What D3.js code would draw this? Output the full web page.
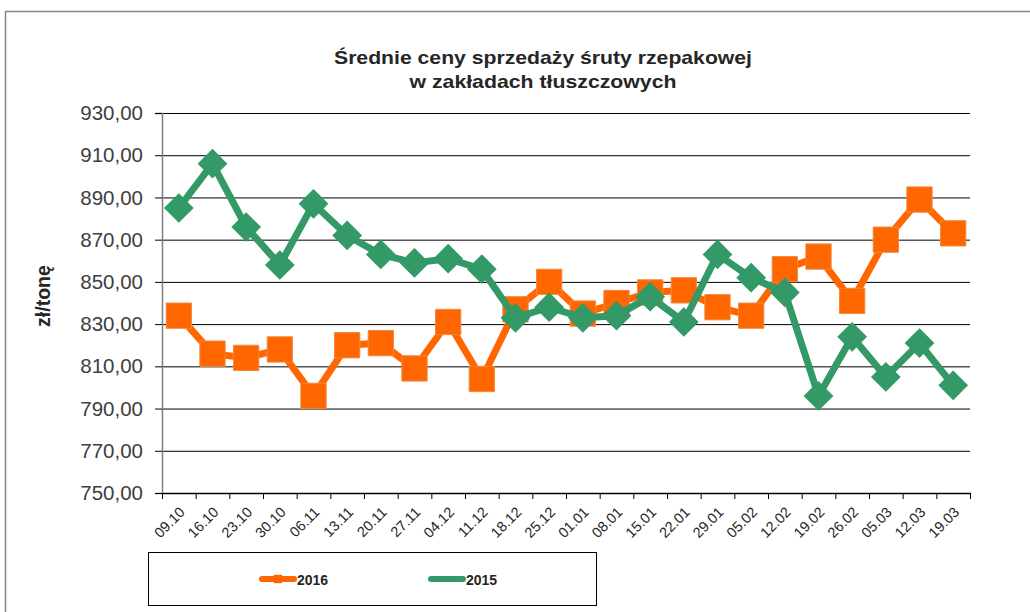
<!DOCTYPE html>
<html>
<head>
<meta charset="utf-8">
<script src="https://cdn.jsdelivr.net/npm/d3@7"></script>
<style>
  body { margin: 0; background: #fff; }
  svg { font-family: "Liberation Sans", Arial, sans-serif; }
</style>
</head>
<body>
<svg id="chart" width="1030" height="612"></svg>
<script>
// Dane
const weeks = ["09.10","16.10","23.10","30.10","06.11","13.11","20.11","27.11","04.12","11.12","18.12","25.12",
               "01.01","08.01","15.01","22.01","29.01","05.02","12.02","19.02","26.02","05.03","12.03","19.03"];
const prices2016 = [834,816,814,818,796,820,821,809,831,804,837,850,835,840,845,846,838,834,856,862,841,870,889,873];
const prices2015 = [885,906,876,858,887,872,863,859,861,856,833,838,833,834,843,831,863,852,845,796,824,805,821,801];
const yTicks = [750,770,790,810,830,850,870,890,910,930];

const orange = "#ff6600";
const green = "#339966";

const svg = d3.select("#chart");
const plotLeft = 162, plotRight = 970, plotTop = 113, plotBottom = 493;

// ramka wykresu
svg.append("rect")
    .attr("x", 5.5).attr("y", 11.5)
    .attr("width", 1040).attr("height", 620)
    .attr("fill", "none")
    .attr("stroke", "#868686")
    .attr("stroke-width", 1.5);

// tytuł
const title = svg.append("text")
    .attr("text-anchor", "middle")
    .attr("font-weight", "bold")
    .attr("font-size", 19)
    .attr("fill", "#262626");
title.append("tspan").attr("x", 543).attr("y", 64)
    .attr("textLength", 418).attr("lengthAdjust", "spacingAndGlyphs")
    .text("Średnie ceny sprzedaży śruty rzepakowej");
title.append("tspan").attr("x", 543).attr("y", 88)
    .attr("textLength", 267).attr("lengthAdjust", "spacingAndGlyphs")
    .text("w zakładach tłuszczowych");

const x = d3.scaleBand().domain(weeks).range([plotLeft, plotRight]);
const y = d3.scaleLinear().domain([750, 930]).range([plotBottom, plotTop]);

// linie siatki
svg.append("g")
    .selectAll("line")
    .data(yTicks.slice(1))
    .enter().append("line")
    .attr("x1", plotLeft).attr("x2", plotRight)
    .attr("y1", d => y(d) + 0.5).attr("y2", d => y(d) + 0.5)
    .attr("stroke", "#000")
    .attr("stroke-width", 1);

// oś Y
const yAxis = svg.append("g")
    .attr("transform", `translate(${plotLeft},0)`)
    .call(d3.axisLeft(y).tickValues(yTicks).tickSize(7).tickPadding(12)
        .tickFormat(d => d3.format(".2f")(d).replace(".", ",")));
yAxis.select(".domain").attr("stroke", "#808080").attr("stroke-width", 1.5);
yAxis.selectAll(".tick line").attr("stroke", "#000");
yAxis.selectAll("text")
    .attr("font-size", 20.5)
    .attr("fill", "#404040")
    .attr("font-family", "Liberation Sans, Arial, sans-serif");

svg.append("text")
    .attr("transform", "translate(50,296) rotate(-90)")
    .attr("text-anchor", "middle")
    .attr("font-weight", "bold")
    .attr("font-size", 19.5)
    .attr("fill", "#262626")
    .text("zł/tonę");

// oś X
const xAxis = svg.append("g")
    .attr("transform", `translate(0,${plotBottom})`);
xAxis.append("line")
    .attr("x1", plotLeft).attr("x2", plotRight + 1)
    .attr("y1", 0.5).attr("y2", 0.5)
    .attr("stroke", "#000").attr("stroke-width", 1.5);
xAxis.selectAll("line.tick")
    .data(weeks.concat(["end"]))
    .enter().append("line")
    .attr("class", "tick")
    .attr("x1", (d, i) => plotLeft + i * x.bandwidth() + 0.5)
    .attr("x2", (d, i) => plotLeft + i * x.bandwidth() + 0.5)
    .attr("y1", 0).attr("y2", 6)
    .attr("stroke", "#000");
xAxis.selectAll("text")
    .data(weeks)
    .enter().append("text")
    .attr("transform", d => `translate(${x(d) + x.bandwidth() / 2 + 7},${20}) rotate(-45)`)
    .attr("text-anchor", "end")
    .attr("font-size", 14.5)
    .attr("fill", "#262626")
    .text(d => d);

// linie danych
const line = d3.line()
    .x((d, i) => x(weeks[i]) + x.bandwidth() / 2)
    .y(d => y(d));

function drawSeries(values, color, shape) {
    svg.append("path")
        .datum(values)
        .attr("d", line)
        .attr("fill", "none")
        .attr("stroke", color)
        .attr("stroke-width", 7)
        .attr("stroke-linejoin", "round");
    const sym = d3.symbol().type(d3.symbolSquare)
        .size(shape === "square" ? 640 : 400);
    svg.append("g").selectAll("path")
        .data(values)
        .enter().append("path")
        .attr("d", sym)
        .attr("transform", (d, i) => `translate(${x(weeks[i]) + x.bandwidth() / 2},${y(d)})` +
            (shape === "square" ? "" : " rotate(45)"))
        .attr("fill", color)
        .attr("stroke", shape === "square" ? "#f08a40" : color)
        .attr("stroke-width", 1);
}

drawSeries(prices2016, orange, "square");
drawSeries(prices2015, green, "diamond");

// legenda
const legend = svg.append("g");
legend.append("rect")
    .attr("x", 148.5).attr("y", 552.5)
    .attr("width", 448).attr("height", 53)
    .attr("fill", "#fff")
    .attr("stroke", "#000")
    .attr("stroke-width", 1);

const legendItems = [
    { label: "2016", color: orange, x: 262, shape: "square" },
    { label: "2015", color: green, x: 431, shape: "diamond" }
];
legendItems.forEach(item => {
    legend.append("line")
        .attr("x1", item.x).attr("x2", item.x + 32)
        .attr("y1", 579).attr("y2", 579)
        .attr("stroke", item.color)
        .attr("stroke-width", 6)
        .attr("stroke-linecap", "round");
    legend.append("path")
        .attr("d", d3.symbol().type(d3.symbolSquare).size(item.shape === "square" ? 70 : 20))
        .attr("transform", `translate(${item.x + 16},579)` + (item.shape === "square" ? "" : " rotate(45)"))
        .attr("fill", item.color);
    legend.append("text")
        .attr("x", item.x + 35).attr("y", 585)
        .attr("font-weight", "bold")
        .attr("font-size", 14)
        .attr("fill", "#262626")
        .text(item.label);
});
</script>
</body>
</html>
